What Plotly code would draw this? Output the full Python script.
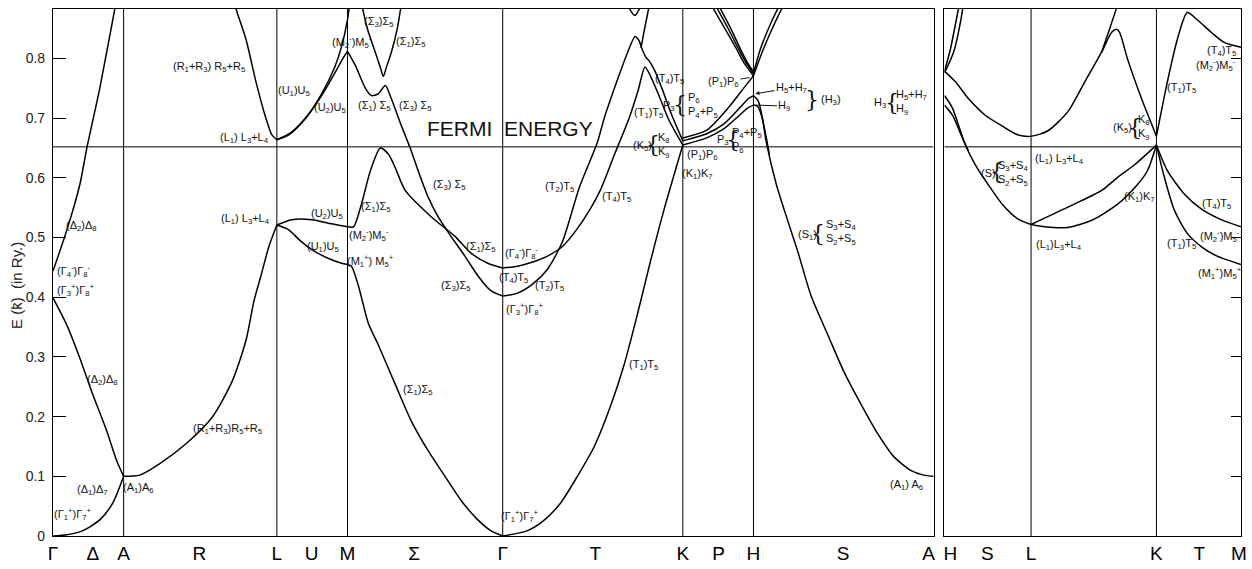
import plotly.graph_objects as go

# ---------------- data (E in Ry, k = position along path) ----------------
EF = 0.652

sym_left_k = [0, 40, 71, 147, 225, 260, 296, 363, 452, 545, 633, 669, 704, 794, 880]
sym_left_lab = ["Γ", "Δ", "A", "R", "L", "U", "M", "Σ", "Γ", "T", "K", "P", "H", "S", "A"]
vlines_left = [71, 225, 296, 452, 633, 704]
sym_right_k = [6, 43, 87, 213, 256, 296]
sym_right_lab = ["H", "S", "L", "K", "T", "M"]
vlines_right = [87, 213]
ytick_vals = [0, 0.1, 0.2, 0.3, 0.4, 0.5, 0.6, 0.7, 0.8]
ytick_text = ["0", "0.1", "0.2", "0.3", "0.4", "0.5", "0.6", "0.7", "0.8"]

# Gamma - A
k_ga_lo = [0, 14, 30, 47, 60, 71]
e_ga_lo = [0.0, 0.002, 0.009, 0.027, 0.055, 0.100]
k_ga_mid = [0, 14, 27, 40, 54, 64, 71]
e_ga_mid = [0.399, 0.353, 0.298, 0.237, 0.176, 0.126, 0.100]
k_ga_up = [0, 14, 27, 34, 47, 62, 65]
e_ga_up = [0.444, 0.513, 0.589, 0.650, 0.750, 0.882, 0.905]
# A - L
k_al_lo = [71, 87, 107, 134, 160, 180, 194, 202, 209, 217, 225]
e_al_lo = [0.100, 0.102, 0.121, 0.155, 0.199, 0.259, 0.328, 0.394, 0.436, 0.485, 0.521]
k_al_up = [181, 184, 194, 204, 214, 220, 225]
e_al_up = [0.905, 0.883, 0.832, 0.761, 0.700, 0.672, 0.664]
# L - M
k_lm_up1 = [225, 237, 254, 270, 284, 292, 296]
e_lm_up1 = [0.664, 0.672, 0.700, 0.738, 0.778, 0.802, 0.812]
k_lm_up2 = [225, 239, 255, 270, 283, 290, 296, 298]
e_lm_up2 = [0.664, 0.676, 0.703, 0.741, 0.785, 0.820, 0.865, 0.890]
k_lm_mid = [225, 240, 260, 280, 296]
e_lm_mid = [0.521, 0.530, 0.530, 0.523, 0.518]
k_lm_lo = [225, 237, 247, 260, 277, 290, 296]
e_lm_lo = [0.521, 0.513, 0.497, 0.480, 0.465, 0.457, 0.455]
# M - Gamma (Sigma)
k_sv = [309, 316, 324, 329, 332, 335, 340, 346, 350]
e_sv = [0.900, 0.850, 0.810, 0.785, 0.770, 0.785, 0.810, 0.850, 0.890]
k_sa = [296, 304, 314, 320, 327, 334, 340, 350, 359, 367, 377, 387, 400, 414, 427, 440, 452]
e_sa = [0.812, 0.788, 0.750, 0.738, 0.741, 0.755, 0.733, 0.688, 0.650, 0.612, 0.568, 0.535,
        0.502, 0.469, 0.436, 0.411, 0.402]
k_sb = [296, 302, 310, 319, 329, 337, 344, 354, 380, 404, 420, 437, 452]
e_sb = [0.518, 0.518, 0.556, 0.612, 0.650, 0.640, 0.617, 0.579, 0.535, 0.502, 0.474, 0.457, 0.449]
k_sc = [296, 300, 307, 317, 327, 344, 360, 377, 394, 410, 427, 440, 452]
e_sc = [0.455, 0.452, 0.419, 0.356, 0.320, 0.254, 0.193, 0.143, 0.100, 0.060, 0.027, 0.009, 0.0]
# Gamma - K (T)
k_t1 = [452, 477, 494, 510, 527, 544, 560, 574, 587, 600, 614, 633]
e_t1 = [0.0, 0.009, 0.027, 0.055, 0.100, 0.150, 0.216, 0.287, 0.369, 0.457, 0.546, 0.655]
k_ta = [452, 467, 482, 497, 512, 529, 547, 554, 567, 577, 585, 589, 592, 596, 600, 605, 612, 622, 633]
e_ta = [0.402, 0.407, 0.422, 0.447, 0.493, 0.584, 0.659, 0.700, 0.763, 0.808, 0.837, 0.830,
        0.816, 0.802, 0.794, 0.779, 0.750, 0.705, 0.662]
k_tb = [452, 467, 482, 497, 512, 527, 540, 550, 565, 579, 588, 595, 601, 609, 619, 633]
e_tb = [0.449, 0.452, 0.459, 0.469, 0.485, 0.515, 0.548, 0.579, 0.642, 0.700, 0.746, 0.786,
        0.769, 0.738, 0.697, 0.655]
k_tu = [577, 581, 585, 588, 592]
e_tu = [0.893, 0.879, 0.872, 0.879, 0.893]
k_tv = [591, 594, 597, 600]
e_tv = [0.818, 0.845, 0.870, 0.895]
# K - H (P)
k_p1 = [633, 657, 680, 694, 704]
e_p1 = [0.667, 0.680, 0.720, 0.750, 0.771]
k_p2 = [633, 657, 674, 690, 699, 704]
e_p2 = [0.662, 0.674, 0.690, 0.717, 0.733, 0.738]
k_p3 = [633, 657, 674, 690, 699, 704]
e_p3 = [0.655, 0.667, 0.682, 0.705, 0.718, 0.722]
k_vl1 = [660, 664, 674, 687, 694, 704]
e_vl1 = [0.900, 0.883, 0.854, 0.816, 0.794, 0.771]
k_vl2 = [664, 668, 678, 690, 697, 704]
e_vl2 = [0.900, 0.883, 0.852, 0.813, 0.792, 0.775]
k_vl3 = [667, 671, 681, 692, 699, 704]
e_vl3 = [0.900, 0.883, 0.851, 0.812, 0.790, 0.778]
k_vr1 = [704, 714, 727, 736]
e_vr1 = [0.771, 0.816, 0.865, 0.895]
k_vr2 = [704, 711, 723, 732]
e_vr2 = [0.775, 0.816, 0.865, 0.895]
# H - A (S)
k_s1 = [704, 709, 713, 717, 727, 735, 749, 762, 779, 795, 812, 829, 845, 862, 875, 885]
e_s1 = [0.738, 0.728, 0.700, 0.659, 0.589, 0.546, 0.474, 0.402, 0.336, 0.275, 0.221, 0.171,
        0.133, 0.110, 0.102, 0.100]
k_s2 = [704, 708, 712, 716, 720]
e_s2 = [0.722, 0.720, 0.705, 0.675, 0.640]

# right panel: H - L - K - M
k_r1a = [0, 11, 24, 41, 58, 74, 88, 104, 124, 141, 158, 168, 173, 176, 184, 198, 213]
e_r1a = [0.779, 0.761, 0.733, 0.705, 0.687, 0.672, 0.670, 0.679, 0.711, 0.761, 0.811, 0.844,
         0.849, 0.844, 0.799, 0.733, 0.670]
k_r1b = [213, 224, 234, 244, 254, 268, 281, 298]
e_r1b = [0.670, 0.761, 0.832, 0.877, 0.865, 0.844, 0.827, 0.819]
k_r1c = [0, 6, 14, 17]
e_r1c = [0.779, 0.816, 0.883, 0.905]
k_r1d = [0, 9, 17, 20]
e_r1d = [0.776, 0.810, 0.870, 0.905]
k_r1e = [158, 166, 172, 176]
e_r1e = [0.811, 0.850, 0.880, 0.900]
k_r2a = [0, 8, 21, 31, 41, 58, 74, 87]
e_r2a = [0.738, 0.717, 0.655, 0.622, 0.596, 0.556, 0.531, 0.522]
k_r2b = [0, 8, 18, 24]
e_r2b = [0.722, 0.705, 0.667, 0.645]
k_r3 = [87, 124, 158, 174, 191, 213]
e_r3 = [0.522, 0.551, 0.579, 0.601, 0.622, 0.655]
k_r4 = [87, 101, 124, 148, 174, 194, 204, 213]
e_r4 = [0.522, 0.518, 0.517, 0.529, 0.556, 0.589, 0.612, 0.655]
k_r5 = [213, 224, 241, 258, 278, 298]
e_r5 = [0.655, 0.612, 0.573, 0.548, 0.530, 0.518]
k_r6 = [213, 221, 231, 244, 258, 274, 298]
e_r6 = [0.655, 0.601, 0.546, 0.507, 0.485, 0.469, 0.455]

left_bands = [
    (k_ga_lo, e_ga_lo), (k_ga_mid, e_ga_mid), (k_ga_up, e_ga_up),
    (k_al_lo, e_al_lo), (k_al_up, e_al_up),
    (k_lm_up1, e_lm_up1), (k_lm_up2, e_lm_up2), (k_lm_mid, e_lm_mid), (k_lm_lo, e_lm_lo),
    (k_sv, e_sv), (k_sa, e_sa), (k_sb, e_sb), (k_sc, e_sc),
    (k_t1, e_t1), (k_ta, e_ta), (k_tb, e_tb), (k_tu, e_tu), (k_tv, e_tv),
    (k_p1, e_p1), (k_p2, e_p2), (k_p3, e_p3),
    (k_vl1, e_vl1), (k_vl2, e_vl2), (k_vl3, e_vl3), (k_vr1, e_vr1), (k_vr2, e_vr2),
    (k_s1, e_s1), (k_s2, e_s2),
]
right_bands = [
    (k_r1a, e_r1a), (k_r1b, e_r1b), (k_r1c, e_r1c), (k_r1d, e_r1d), (k_r1e, e_r1e),
    (k_r2a, e_r2a), (k_r2b, e_r2b), (k_r3, e_r3), (k_r4, e_r4), (k_r5, e_r5), (k_r6, e_r6),
]

# ---------------- figure ----------------
W, H = 1252, 569
ML, MR, MT, MB = 53, 5, 9, 26
PW = W - ML - MR
PH = H - MT - MB
FONT = "Liberation Sans, Arial, sans-serif"
YMAX = 0.883

fig = go.Figure()
line_style = dict(color="#000", width=1.5, shape="spline", smoothing=0.7)
for kk, ee in left_bands:
    fig.add_trace(go.Scatter(x=kk, y=ee, mode="lines", line=line_style,
                             xaxis="x", yaxis="y", hoverinfo="skip"))
for kk, ee in right_bands:
    fig.add_trace(go.Scatter(x=kk, y=ee, mode="lines", line=line_style,
                             xaxis="x2", yaxis="y2", hoverinfo="skip"))

shapes = []
for xv in vlines_left:
    shapes.append(dict(type="line", xref="x", yref="y", x0=xv, x1=xv, y0=0, y1=YMAX,
                       line=dict(color="#000", width=1)))
for xv in vlines_right:
    shapes.append(dict(type="line", xref="x2", yref="y2", x0=xv, x1=xv, y0=0, y1=YMAX,
                       line=dict(color="#000", width=1)))
shapes.append(dict(type="line", xref="x", yref="y", x0=0, x1=885, y0=EF, y1=EF,
                   line=dict(color="#000", width=1)))
shapes.append(dict(type="line", xref="x2", yref="y2", x0=0, x1=298, y0=EF, y1=EF,
                   line=dict(color="#000", width=1)))

annotations = []


def lab(ax, k, e, text, size=11, **kw):
    d = dict(xref=ax, yref="y" if ax == "x" else "y2", x=k, y=e, text=text, showarrow=False,
             font=dict(size=size, color="#111", family=FONT))
    d.update(kw)
    annotations.append(d)


def brace(ax, k, e, ch="{"):
    lab(ax, k, e, ch, size=22, font=dict(size=22, color="#111", family="DejaVu Serif"))


def arrow(ax, k, e, dx, dy, text, head=0):
    annotations.append(dict(xref=ax, yref="y" if ax == "x" else "y2", x=k, y=e, ax=dx, ay=dy,
                            axref="pixel", ayref="pixel", text=text, showarrow=True,
                            arrowhead=head, arrowsize=0.8, arrowwidth=1, arrowcolor="#111",
                            font=dict(size=11, color="#111", family=FONT)))


# left panel labels
lab("x", 29, 0.520, "(Δ<sub>2</sub>)Δ<sub>8</sub>")
lab("x", 2, 0.444, "(Γ<sub>4</sub><sup>-</sup>)Γ<sub>8</sub><sup>-</sup>", xanchor="left")
lab("x", 2, 0.412, "(Γ<sub>3</sub><sup>+</sup>)Γ<sub>8</sub><sup>+</sup>", xanchor="left")
lab("x", 50, 0.262, "(Δ<sub>2</sub>)Δ<sub>8</sub>")
lab("x", 40, 0.077, "(Δ<sub>1</sub>)Δ<sub>7</sub>")
lab("x", 86, 0.080, "(A<sub>1</sub>)A<sub>6</sub>")
lab("x", 20, 0.037, "(Γ<sub>1</sub><sup>+</sup>)Γ<sub>7</sub><sup>+</sup>")
lab("x", 175, 0.179, "(R<sub>1</sub>+R<sub>3</sub>)R<sub>5</sub>+R<sub>5</sub>")
lab("x", 157, 0.786, "(R<sub>1</sub>+R<sub>3</sub>) R<sub>5</sub>+R<sub>5</sub>")
lab("x", 242, 0.746, "(U<sub>1</sub>)U<sub>5</sub>")
lab("x", 278, 0.717, "(U<sub>2</sub>)U<sub>5</sub>")
lab("x", 192, 0.667, "(L<sub>1</sub>) L<sub>3</sub>+L<sub>4</sub>")
lab("x", 193, 0.531, "(L<sub>1</sub>) L<sub>3</sub>+L<sub>4</sub>")
lab("x", 275, 0.540, "(U<sub>2</sub>)U<sub>5</sub>")
lab("x", 271, 0.485, "(U<sub>1</sub>)U<sub>5</sub>")
lab("x", 318, 0.505, "(M<sub>2</sub><sup>-</sup>)M<sub>5</sub><sup>-</sup>")
lab("x", 319, 0.460, "(M<sub>1</sub><sup>+</sup>) M<sub>5</sub><sup>+</sup>")
lab("x", 325, 0.551, "(Σ<sub>1</sub>)Σ<sub>5</sub>")
lab("x", 301, 0.827, "(M<sub>2</sub><sup>-</sup>)M<sub>5</sub><sup>-</sup>")
lab("x", 328, 0.862, "(Σ<sub>3</sub>)Σ<sub>5</sub>")
lab("x", 360, 0.827, "(Σ<sub>1</sub>)Σ<sub>5</sub>")
lab("x", 323, 0.720, "(Σ<sub>1</sub>) Σ<sub>5</sub>")
lab("x", 364, 0.720, "(Σ<sub>3</sub>) Σ<sub>5</sub>")
lab("x", 398, 0.588, "(Σ<sub>3</sub>) Σ<sub>5</sub>")
lab("x", 430, 0.485, "(Σ<sub>1</sub>)Σ<sub>5</sub>")
lab("x", 405, 0.419, "(Σ<sub>3</sub>)Σ<sub>5</sub>")
lab("x", 367, 0.245, "(Σ<sub>1</sub>)Σ<sub>5</sub>")
lab("x", 471, 0.474, "(Γ<sub>4</sub><sup>-</sup>)Γ<sub>8</sub><sup>-</sup>")
lab("x", 463, 0.432, "(T<sub>4</sub>)T<sub>5</sub>")
lab("x", 499, 0.419, "(T<sub>2</sub>)T<sub>5</sub>")
lab("x", 474, 0.381, "(Γ<sub>3</sub><sup>+</sup>)Γ<sub>8</sub><sup>+</sup>")
lab("x", 469, 0.034, "(Γ<sub>1</sub><sup>+</sup>)Γ<sub>7</sub><sup>+</sup>")
lab("x", 593, 0.287, "(T<sub>1</sub>)T<sub>5</sub>")
lab("x", 509, 0.584, "(T<sub>2</sub>)T<sub>5</sub>")
lab("x", 566, 0.568, "(T<sub>4</sub>)T<sub>5</sub>")
lab("x", 599, 0.708, "(T<sub>1</sub>)T<sub>5</sub>")
lab("x", 620, 0.766, "(T<sub>4</sub>)T<sub>5</sub>")
lab("x", 592, 0.654, "(K<sub>5</sub>)")
brace("x", 603, 0.656)
lab("x", 614, 0.654, "K<sub>8</sub><br>K<sub>9</sub>")
lab("x", 653, 0.639, "(P<sub>1</sub>)P<sub>6</sub>")
lab("x", 648, 0.607, "(K<sub>1</sub>)K<sub>7</sub>")
lab("x", 619, 0.721, "P<sub>3</sub>")
brace("x", 630, 0.723)
lab("x", 653, 0.722, "P<sub>6</sub><br>P<sub>4</sub>+P<sub>5</sub>", align="left")
lab("x", 673, 0.664, "P<sub>3</sub>")
brace("x", 683, 0.665)
lab("x", 697, 0.662, "P<sub>4</sub>+P<sub>5</sub><br>P<sub>6</sub>", align="left")
arrow("x", 700, 0.768, -26, 4, "(P<sub>1</sub>)P<sub>6</sub>")
arrow("x", 706, 0.741, 36, -6, "H<sub>5</sub>+H<sub>7</sub>", head=2)
arrow("x", 707, 0.722, 28, 1, "H<sub>9</sub>")
brace("x", 763, 0.731, "}")
lab("x", 782, 0.730, "(H<sub>3</sub>)")
lab("x", 758, 0.505, "(S<sub>1</sub>)")
brace("x", 769, 0.507)
lab("x", 792, 0.508, "S<sub>3</sub>+S<sub>4</sub><br>S<sub>2</sub>+S<sub>5</sub>", align="left")
lab("x", 858, 0.085, "(A<sub>1</sub>) A<sub>6</sub>")
lab("x", 831, 0.725, "H<sub>3</sub>")
brace("x", 843, 0.727)
lab("x", 863, 0.726, "H<sub>5</sub>+H<sub>7</sub><br>H<sub>9</sub>", align="left")
lab("x", 459, 0.682, "FERMI  ENERGY", size=21)

# right panel labels
lab("x2", 278, 0.812, "(T<sub>4</sub>)T<sub>5</sub>")
lab("x2", 273, 0.790, "(M<sub>2</sub><sup>-</sup>)M<sub>5</sub><sup>-</sup>")
lab("x2", 238, 0.750, "(T<sub>1</sub>)T<sub>5</sub>")
lab("x2", 179, 0.683, "(K<sub>5</sub>)")
brace("x2", 191, 0.685)
lab("x2", 201, 0.684, "K<sub>8</sub><br>K<sub>9</sub>")
lab("x2", 116, 0.631, "(L<sub>1</sub>) L<sub>3</sub>+L<sub>4</sub>")
lab("x2", 44, 0.609, "(S)")
brace("x2", 53, 0.610)
lab("x2", 69, 0.607, "S<sub>3</sub>+S<sub>4</sub><br>S<sub>2</sub>+S<sub>5</sub>", align="left")
lab("x2", 196, 0.568, "(K<sub>1</sub>)K<sub>7</sub>")
lab("x2", 115, 0.488, "(L<sub>1</sub>)L<sub>3</sub>+L<sub>4</sub>")
lab("x2", 273, 0.556, "(T<sub>4</sub>)T<sub>5</sub>")
lab("x2", 238, 0.490, "(T<sub>1</sub>)T<sub>5</sub>")
lab("x2", 277, 0.502, "(M<sub>2</sub><sup>-</sup>)M<sub>5</sub><sup>-</sup>")
lab("x2", 277, 0.440, "(M<sub>1</sub><sup>+</sup>)M<sub>5</sub><sup>+</sup>")

# y-axis title
annotations.append(dict(xref="paper", yref="paper", x=(17 - ML) / PW, y=(543.5 - 290) / PH,
                        xanchor="center", yanchor="middle",
                        text="E (k\u0304)  (in Ry.)", textangle=-90, showarrow=False,
                        font=dict(size=15, color="#222", family=FONT)))

axis_common = dict(showgrid=False, zeroline=False, showline=True, mirror=True,
                   linecolor="#000", linewidth=1.2)

fig.update_layout(
    width=W, height=H,
    margin=dict(l=ML, r=MR, t=MT, b=MB),
    paper_bgcolor="white", plot_bgcolor="white",
    showlegend=False,
    shapes=shapes,
    annotations=annotations,
    xaxis=dict(domain=[0, (938 - ML) / PW], range=[0, 885], tickmode="array",
               tickvals=sym_left_k, ticktext=sym_left_lab, ticks="",
               tickfont=dict(size=19, color="#000", family=FONT), anchor="y", **axis_common),
    yaxis=dict(range=[0, YMAX], tickmode="array", tickvals=ytick_vals, ticktext=ytick_text,
               ticks="inside", ticklen=13, tickwidth=1, tickcolor="#000",
               tickfont=dict(size=14, color="#222", family=FONT), anchor="x",
               ticklabelstandoff=4, **axis_common),
    xaxis2=dict(domain=[(949 - ML) / PW, 1.0], range=[0, 298], tickmode="array",
                tickvals=sym_right_k, ticktext=sym_right_lab, ticks="",
                tickfont=dict(size=19, color="#000", family=FONT), anchor="y2", **axis_common),
    yaxis2=dict(range=[0, YMAX], tickmode="array", tickvals=ytick_vals[1:], side="right",
                ticks="inside", ticklen=10, tickwidth=1, tickcolor="#000",
                showticklabels=False, anchor="x2", **axis_common),
)

fig.write_html("out.html", config={"displayModeBar": False},
               post_script="document.body.style.margin='0';")
